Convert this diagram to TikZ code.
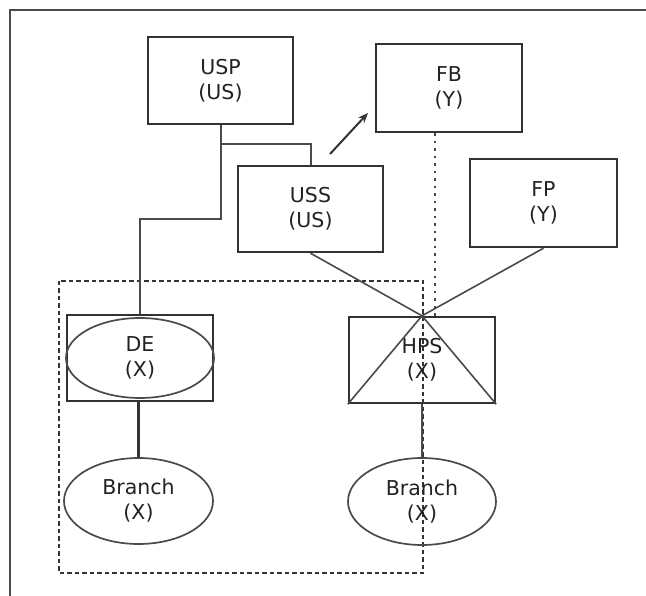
\documentclass[tikz,border=0pt]{standalone}
\usepackage{fontspec}
\setmainfont{DejaVu Sans}
\usetikzlibrary{shapes.geometric,arrows.meta}
\definecolor{ln}{HTML}{333333}
\definecolor{lt}{HTML}{4A4A4A}
\definecolor{tx}{HTML}{222222}
\begin{document}
\begin{tikzpicture}[x=1pt,y=-1pt,
  boxnode/.style={draw=ln,line width=2.4pt,rectangle,inner sep=0pt,align=center,text=tx,
    font=\fontsize{20.5}{25}\selectfont},
  ellnode/.style={draw=lt,line width=1.7pt,ellipse,inner sep=0pt,align=center,text=tx,
    font=\fontsize{20.5}{25}\selectfont},
  conn/.style={draw=lt,line width=2pt},
  thin/.style={draw=lt,line width=1.6pt}]
\useasboundingbox[fill=white] (0,0) rectangle (646,596);
% frame
\coordinate (f1) at (10,596);
\coordinate (f2) at (10,10);
\coordinate (f3) at (646,10);
\draw[draw=lt,line width=2pt] (f1) -- (f2) -- (f3);
% dashed group box
\coordinate (g1) at (59,281);
\coordinate (g2) at (423,573);
\draw[draw=ln,line width=2pt,dash pattern=on 4.5pt off 3pt] (g1) rectangle (g2);
% boxes
\node[boxnode,minimum width=145pt,minimum height=87pt] (USP) at (220.5,80.5) {USP\\(US)};
\node[boxnode,minimum width=146pt,minimum height=88pt] (FB) at (449,88) {FB\\(Y)};
\node[boxnode,minimum width=145pt,minimum height=86pt] (USS) at (310.5,209) {USS\\(US)};
\node[boxnode,minimum width=147pt,minimum height=88pt] (FP) at (543.5,203) {FP\\(Y)};
\node[boxnode,minimum width=146pt,minimum height=86pt] (DEbox) at (140,358) {};
\node[ellnode,minimum width=148pt,minimum height=80pt] (DE) at (140,358) {DE\\(X)};
\node[boxnode,minimum width=146pt,minimum height=86pt] (HPS) at (422,360) {HPS\\(X)};
\node[ellnode,minimum width=149pt,minimum height=86pt] (BL) at (138.5,501) {Branch\\(X)};
\node[ellnode,minimum width=148pt,minimum height=87pt] (BR) at (422,501.5) {Branch\\(X)};
% connectors
\coordinate (j1) at (220.5,219);
\coordinate (j2) at (220.5,144);
\draw[conn] (USP.south) -- (j1) -| (DEbox.north);
\draw[conn] (j2) -| (USS.north);
\draw[conn,draw=ln,line width=2.2pt] (DEbox.south -| BL.north) -- (BL.north);
\draw[conn] (HPS.south) -- (BR.north);
\draw[thin] (USS.south) -- (HPS.north);
\draw[thin] (FP.south) -- (HPS.north);
\draw[thin] (HPS.north) -- (HPS.south west);
\draw[thin] (HPS.north) -- (HPS.south east);
% arrow
\coordinate (a1) at (330,154);
\coordinate (a2) at (368,113);
\draw[draw=ln,line width=2pt,-{Stealth[length=10pt,width=8pt]}] (a1) -- (a2);
% dotted line from FB
\coordinate (d2) at (435,317);
\draw[draw=lt,line width=2.2pt,dash pattern=on 2.5pt off 5pt] (FB.south -| d2) -- (d2);
\end{tikzpicture}
\end{document}
